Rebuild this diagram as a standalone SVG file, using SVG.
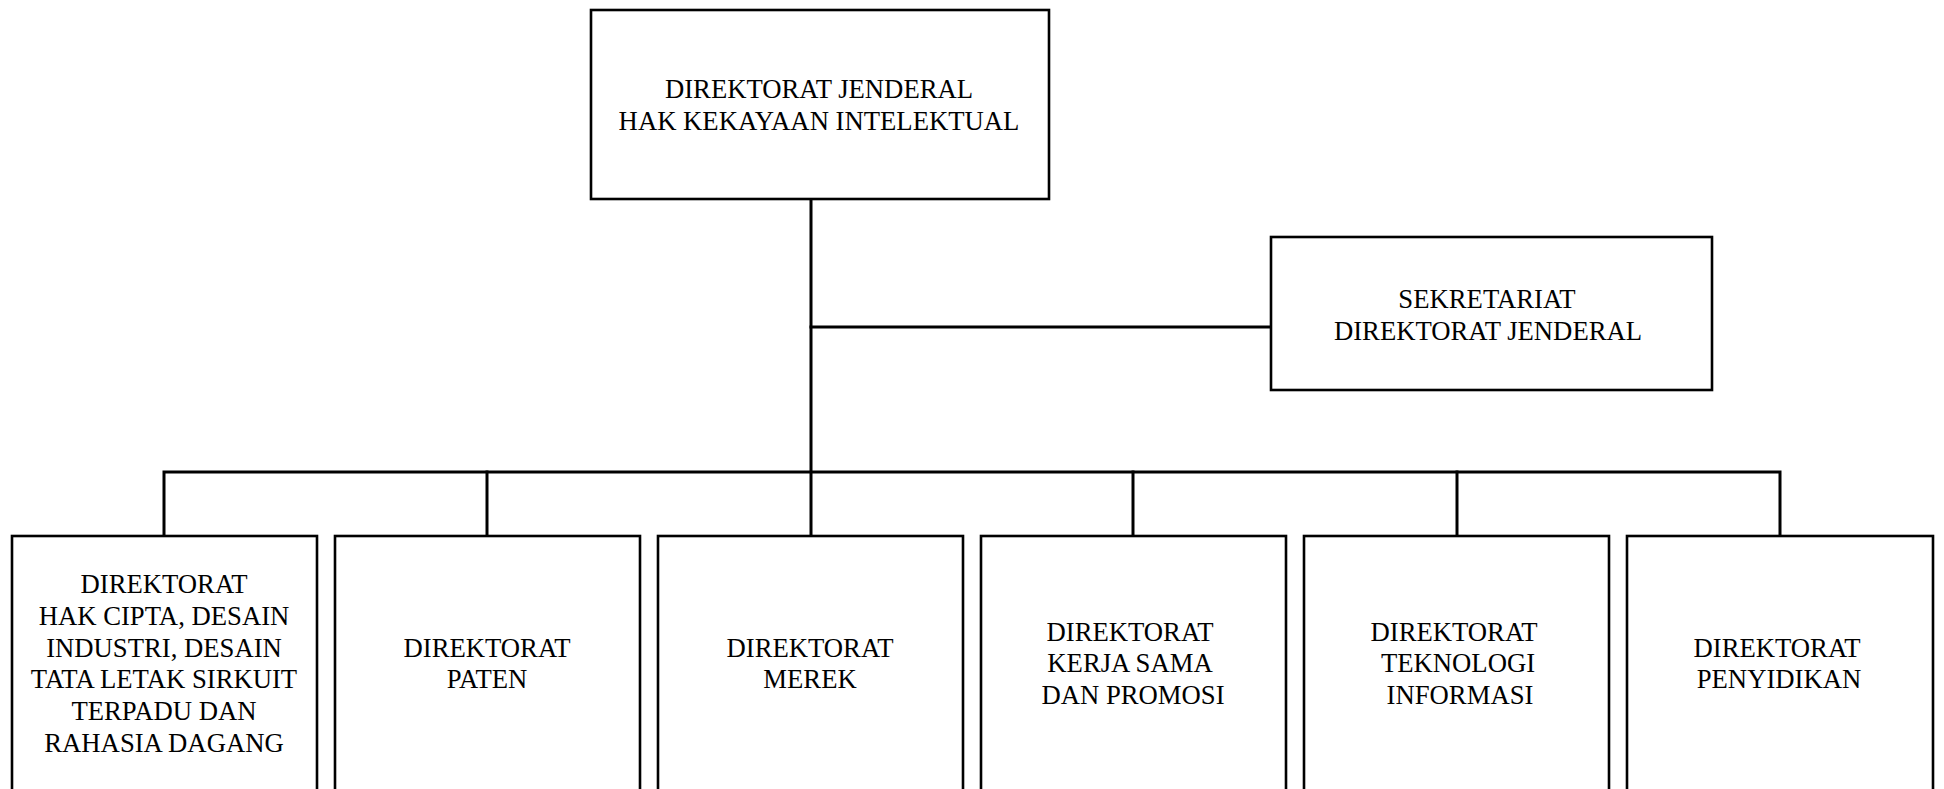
<svg xmlns="http://www.w3.org/2000/svg" width="1944" height="789" viewBox="0 0 1944 789">
  <style>
    .box { fill: #ffffff; stroke: #000000; stroke-width: 2.6; }
    .link { fill: none; stroke: #000000; stroke-width: 3; stroke-linecap: square; }
    .lbl { font-family: "Liberation Serif", "Times New Roman", serif; font-size: 26.7px; fill: #000000; text-anchor: middle; }
  </style>
  <rect width="1944" height="789" fill="#ffffff"/>

  <!-- connectors -->
  <g id="connectors">
    <path class="link" d="M811 200 V536"/>
    <path class="link" d="M811 327 H1271"/>
    <path class="link" d="M164 536 V472 H1780 V536"/>
    <path class="link" d="M487 472 V536"/>
    <path class="link" d="M1133 472 V536"/>
    <path class="link" d="M1457 472 V536"/>
  </g>

  <!-- head office -->
  <g id="dirjen">
    <rect class="box" x="591" y="10" width="458" height="189"/>
    <text class="lbl" x="819" y="98">DIREKTORAT JENDERAL</text>
    <text class="lbl" x="819" y="130">HAK KEKAYAAN INTELEKTUAL</text>
  </g>

  <!-- secretariat -->
  <g id="sekretariat">
    <rect class="box" x="1271" y="237" width="441" height="153"/>
    <text class="lbl" x="1487" y="308">SEKRETARIAT</text>
    <text class="lbl" x="1488" y="340">DIREKTORAT JENDERAL</text>
  </g>

  <!-- directorates -->
  <g id="dir-hak-cipta">
    <rect class="box" x="12" y="536" width="305" height="300"/>
    <text class="lbl" x="164" y="593">DIREKTORAT</text>
    <text class="lbl" x="164" y="625">HAK CIPTA, DESAIN</text>
    <text class="lbl" x="164" y="657">INDUSTRI, DESAIN</text>
    <text class="lbl" x="164" y="688">TATA LETAK SIRKUIT</text>
    <text class="lbl" x="164" y="720">TERPADU DAN</text>
    <text class="lbl" x="164" y="752">RAHASIA DAGANG</text>
  </g>

  <g id="dir-paten">
    <rect class="box" x="335" y="536" width="305" height="300"/>
    <text class="lbl" x="487" y="657">DIREKTORAT</text>
    <text class="lbl" x="487" y="688">PATEN</text>
  </g>

  <g id="dir-merek">
    <rect class="box" x="658" y="536" width="305" height="300"/>
    <text class="lbl" x="810" y="657">DIREKTORAT</text>
    <text class="lbl" x="810" y="688">MEREK</text>
  </g>

  <g id="dir-kerja-sama">
    <rect class="box" x="981" y="536" width="305" height="300"/>
    <text class="lbl" x="1130" y="641">DIREKTORAT</text>
    <text class="lbl" x="1130" y="672">KERJA SAMA</text>
    <text class="lbl" x="1133" y="704">DAN PROMOSI</text>
  </g>

  <g id="dir-teknologi">
    <rect class="box" x="1304" y="536" width="305" height="300"/>
    <text class="lbl" x="1454" y="641">DIREKTORAT</text>
    <text class="lbl" x="1458" y="672">TEKNOLOGI</text>
    <text class="lbl" x="1460" y="704">INFORMASI</text>
  </g>

  <g id="dir-penyidikan">
    <rect class="box" x="1627" y="536" width="306" height="300"/>
    <text class="lbl" x="1777" y="657">DIREKTORAT</text>
    <text class="lbl" x="1779" y="688">PENYIDIKAN</text>
  </g>
</svg>
